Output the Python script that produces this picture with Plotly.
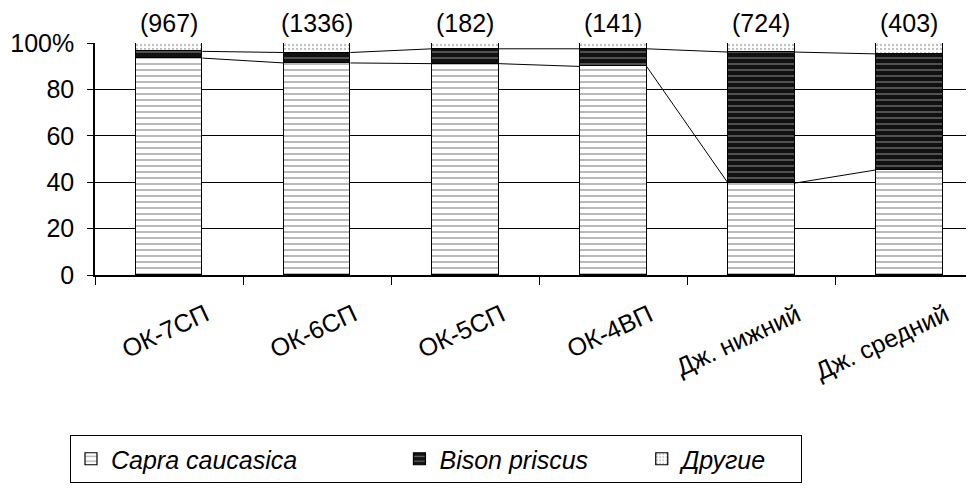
import plotly.graph_objects as go

categories = ["ОК-7СП", "ОК-6СП", "ОК-5СП", "ОК-4ВП", "Дж. нижний", "Дж. средний"]
totals = ["(967)", "(1336)", "(182)", "(141)", "(724)", "(403)"]
capra = [93.5, 91.4, 91.1, 89.9, 39.6, 45.3]
bison = [2.9, 4.5, 6.4, 7.6, 56.5, 50.0]
others = [round(100 - c - b, 1) for c, b in zip(capra, bison)]
series_names = ["Capra caucasica", "Bison priscus", "Другие"]
y_ticks = [0, 20, 40, 60, 80, 100]
y_ticktext = ["0", "20", "40", "60", "80", "100%"]

FONT = "Liberation Sans, Arial, sans-serif"
BW = 0.45
xs = list(range(len(categories)))
NB = "\u00a0"

fig = go.Figure()

fig.add_trace(go.Bar(
    x=xs, y=capra, width=BW, name=series_names[0] + NB * 14,
    marker=dict(color="white", line=dict(color="black", width=1.2),
                pattern=dict(shape="-", fgcolor="#666", bgcolor="white", size=6, solidity=0.3)),
))
fig.add_trace(go.Bar(
    x=xs, y=bison, width=BW, name=series_names[1] + NB * 7,
    marker=dict(color="black", line=dict(color="black", width=1.2),
                pattern=dict(shape="-", fgcolor="#bbb", bgcolor="#111", size=6, solidity=0.25)),
))
fig.add_trace(go.Bar(
    x=xs, y=others, width=BW, name=series_names[2] + NB * 4,
    marker=dict(color="white", line=dict(color="black", width=1.2),
                pattern=dict(shape=".", fgcolor="#777", bgcolor="white", size=4, solidity=0.25)),
))

# series lines between bars
cum1 = capra
cum2 = [c + b for c, b in zip(capra, bison)]
for cum in (cum1, cum2):
    lx, ly = [], []
    for i in range(len(xs) - 1):
        lx += [xs[i] + BW / 2, xs[i + 1] - BW / 2, None]
        ly += [cum[i], cum[i + 1], None]
    fig.add_trace(go.Scatter(x=lx, y=ly, mode="lines", line=dict(color="black", width=1),
                             showlegend=False, hoverinfo="skip"))

# totals above bars
for i, t in enumerate(totals):
    fig.add_annotation(x=xs[i], y=100, xref="x", yref="y", text=t, showarrow=False,
                       xanchor="center", yanchor="bottom", yshift=4,
                       font=dict(family=FONT, size=25, color="black"))

# category labels as rotated annotations
for i, c in enumerate(categories):
    fig.add_annotation(x=xs[i], y=0, xref="x", yref="y", text=c, showarrow=False,
                       textangle=-25, xanchor="right", yanchor="top",
                       xshift=46, yshift=-21,
                       font=dict(family=FONT, size=25, color="black"))

fig.update_layout(
    width=974, height=493,
    margin=dict(l=87, r=0, t=35, b=226, autoexpand=False),
    barmode="stack", bargap=0,
    plot_bgcolor="white", paper_bgcolor="white",
    font=dict(family=FONT, size=25, color="black"),
    showlegend=True,
    legend=dict(orientation="h", xref="container", yref="container",
                x=62 / 974, xanchor="left", y=1 - 427 / 493, yanchor="top",
                bordercolor="black", borderwidth=1, bgcolor="white",
                font=dict(family=FONT, size=25, color="black", style="italic"),
                traceorder="normal", itemwidth=30),
)
fig.update_xaxes(range=[-0.5, 5.49], tickmode="array",
                 tickvals=[x - 0.5 for x in range(len(categories) + 1)],
                 showticklabels=False, ticks="outside", ticklen=8, tickcolor="black",
                 showline=True, linecolor="black", linewidth=2, showgrid=False, zeroline=False)
fig.update_yaxes(range=[0, 100], tickmode="array", tickvals=y_ticks, ticktext=y_ticktext,
                 ticks="outside", ticklen=6, tickcolor="black", ticklabelstandoff=8,
                 showline=True, linecolor="black", linewidth=1.5,
                 showgrid=True, gridcolor="black", gridwidth=1, zeroline=False,
                 tickfont=dict(family=FONT, size=25))

fig.write_html("out.html")
